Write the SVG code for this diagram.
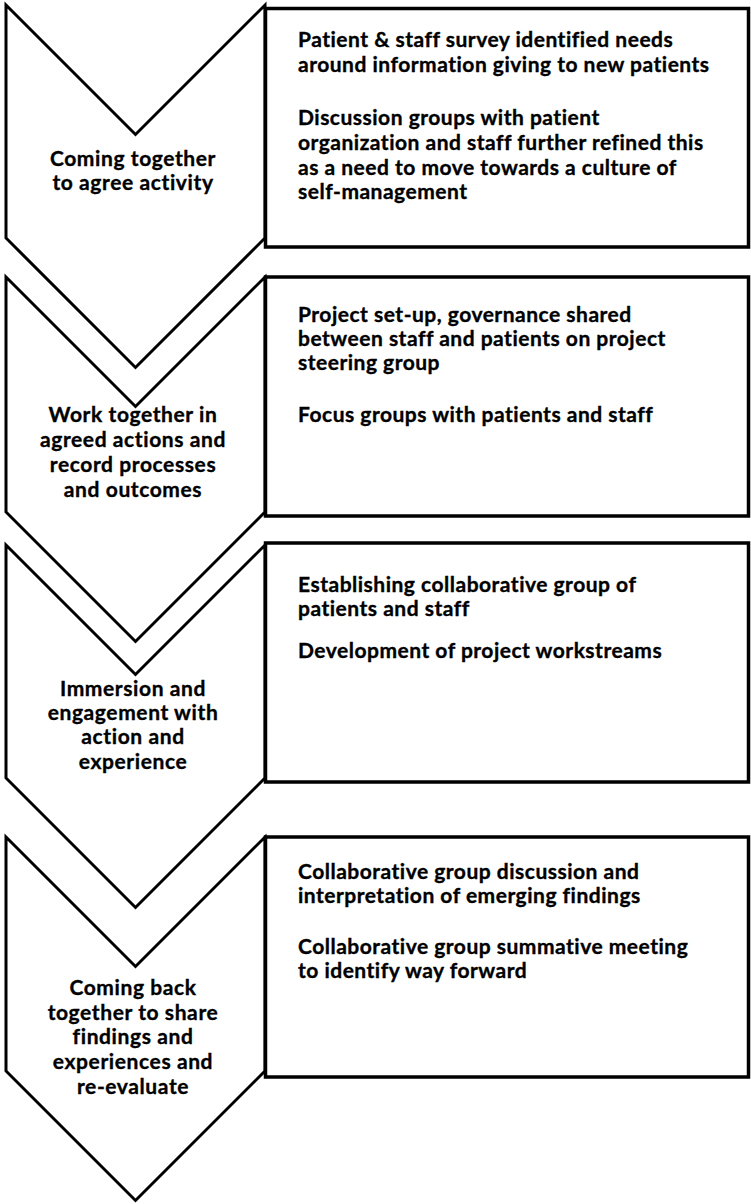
<svg xmlns="http://www.w3.org/2000/svg" width="751" height="1204" viewBox="0 0 751 1204">
  <style>
    .chev { fill: #ffffff; stroke: #000000; stroke-width: 3; stroke-linejoin: miter; }
    .box { fill: #ffffff; stroke: #000000; stroke-width: 3.5; }
    text { font-family: Lato, "Liberation Sans", sans-serif; font-weight: bold; font-size: 21px; letter-spacing: 0.5px; fill: #000000; stroke: #000000; stroke-width: 0.35; }
    .lbl { text-anchor: middle; letter-spacing: 0.6px; }
  </style>
  <rect x="0" y="0" width="751" height="1204" fill="#ffffff"/>

  <!-- stage 1 -->
  <g id="stage1">
    <polygon class="chev" points="6,5 135.5,134.5 265,5 265,238 135.5,367.5 6,238"/>
    <text class="lbl" x="133" y="166">Coming together</text>
    <text class="lbl" x="133" y="190">to agree activity</text>
  </g>
  <g id="box1">
    <rect class="box" x="265.5" y="8.5" width="483" height="238.5"/>
    <text x="298" y="47">Patient &amp; staff survey identified needs</text>
    <text x="298" y="72">around information giving to new patients</text>
    <text x="298" y="125">Discussion groups with patient</text>
    <text x="298" y="150">organization and staff further refined this</text>
    <text x="298" y="175">as a need to move towards a culture of</text>
    <text x="298" y="199">self-management</text>
  </g>

  <!-- stage 2 -->
  <g id="stage2">
    <polygon class="chev" points="6,277 135.5,406.5 265,277 265,512 135.5,641.5 6,512"/>
    <text class="lbl" x="133" y="422">Work together in</text>
    <text class="lbl" x="133" y="447">agreed actions and</text>
    <text class="lbl" x="133" y="472">record processes</text>
    <text class="lbl" x="133" y="497">and outcomes</text>
  </g>
  <g id="box2">
    <rect class="box" x="265.5" y="277" width="483" height="239"/>
    <text x="298" y="322">Project set-up, governance shared</text>
    <text x="298" y="346">between staff and patients on project</text>
    <text x="298" y="370">steering group</text>
    <text x="298" y="422">Focus groups with patients and staff</text>
  </g>

  <!-- stage 3 -->
  <g id="stage3">
    <polygon class="chev" points="6,545 135.5,674.5 265,545 265,778 135.5,907.5 6,778"/>
    <text class="lbl" x="133" y="696">Immersion and</text>
    <text class="lbl" x="133" y="720">engagement with</text>
    <text class="lbl" x="133" y="744">action and</text>
    <text class="lbl" x="133" y="769">experience</text>
  </g>
  <g id="box3">
    <rect class="box" x="265.5" y="543" width="483" height="239"/>
    <text x="298" y="592">Establishing collaborative group of</text>
    <text x="298" y="616">patients and staff</text>
    <text x="298" y="658">Development of project workstreams</text>
  </g>

  <!-- stage 4 -->
  <g id="stage4">
    <polygon class="chev" points="6,837 135.5,966.5 265,837 265,1071 135.5,1200.5 6,1071"/>
    <text class="lbl" x="133" y="995">Coming back</text>
    <text class="lbl" x="133" y="1020">together to share</text>
    <text class="lbl" x="133" y="1044">findings and</text>
    <text class="lbl" x="133" y="1069">experiences and</text>
    <text class="lbl" x="133" y="1094">re-evaluate</text>
  </g>
  <g id="box4">
    <rect class="box" x="265.5" y="837" width="483" height="240"/>
    <text x="298" y="879">Collaborative group discussion and</text>
    <text x="298" y="903">interpretation of emerging findings</text>
    <text x="298" y="954">Collaborative group summative meeting</text>
    <text x="298" y="978">to identify way forward</text>
  </g>

  <!-- no connectors: stages follow one another by their chevron shapes -->
  <g id="connectors"/>
</svg>
